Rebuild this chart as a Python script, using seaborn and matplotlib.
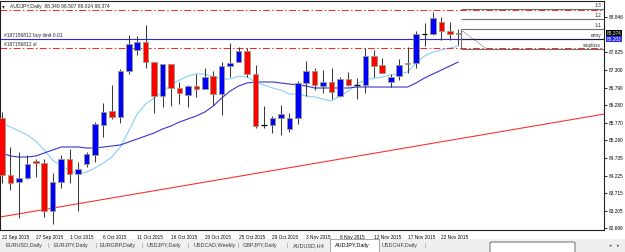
import numpy as np
import pandas as pd
import matplotlib
matplotlib.use("Agg")
import matplotlib.pyplot as plt
import matplotlib.transforms as mtransforms
from matplotlib.patches import Rectangle, FancyBboxPatch
import seaborn as sns

sns.set_style("white")
plt.rcParams['font.family'] = ['Liberation Sans', 'DejaVu Sans']

# AUDJPY daily candles
opens = [85.904, 84.245, 84.041, 84.157, 84.652, 84.594, 83.197, 84.041, 84.710, 84.274,
         84.565, 84.827, 85.700, 86.108, 85.933, 87.272, 87.883, 88.116, 87.534, 86.544,
         87.476, 86.777, 86.573, 86.835, 86.748, 87.126, 86.602, 87.417, 87.534, 87.854,
         87.185, 85.700, 85.700, 85.904, 85.584, 85.904, 86.923, 87.272, 86.835, 86.952,
         86.544, 87.039, 86.864, 86.864, 87.709, 87.447, 86.952, 87.126, 87.476, 87.505,
         88.349, 88.349, 88.698, 88.436, 88.349]
highs = [86.078, 85.060, 84.914, 84.827, 84.710, 84.710, 84.303, 84.827, 85.001, 84.623,
         84.914, 85.787, 86.340, 86.864, 87.330, 88.320, 88.291, 88.611, 87.534, 87.476,
         87.476, 86.952, 86.864, 87.185, 87.359, 87.272, 87.534, 88.087, 87.971, 87.941,
         87.447, 86.253, 85.962, 86.282, 86.049, 86.981, 87.563, 87.359, 87.301, 87.359,
         87.097, 87.243, 87.068, 87.941, 87.883, 87.650, 87.185, 87.621, 87.971, 88.436,
         88.669, 88.989, 88.844, 88.698, 88.507]
lows = [84.012, 83.808, 82.993, 84.128, 84.186, 83.022, 82.818, 83.866, 84.012, 83.197,
        84.477, 84.623, 85.351, 85.875, 85.758, 87.185, 87.738, 87.359, 86.049, 86.224,
        86.253, 86.311, 86.224, 86.515, 86.748, 86.282, 85.991, 87.097, 87.534, 87.097,
        85.613, 85.613, 85.467, 85.409, 85.496, 85.729, 86.544, 86.719, 86.631, 86.457,
        86.515, 86.835, 86.457, 86.631, 87.097, 87.214, 86.806, 87.010, 87.214, 87.359,
        88.000, 88.320, 88.174, 88.174, 88.024]
closes = [84.245, 84.012, 84.157, 84.565, 84.594, 83.197, 84.041, 84.710, 84.274, 84.419,
          84.856, 85.729, 86.078, 85.933, 87.272, 88.058, 88.116, 87.534, 86.544, 87.476,
          86.777, 86.631, 86.835, 86.748, 87.097, 86.602, 87.417, 87.505, 87.854, 87.185,
          85.671, 85.700, 85.904, 86.020, 85.904, 86.923, 87.272, 86.864, 86.952, 86.661,
          87.039, 86.864, 86.864, 87.709, 87.417, 87.214, 87.097, 87.447, 87.505, 88.349,
          88.349, 88.815, 88.436, 88.349, 88.374]

# moving averages (fast light blue, slow dark blue)
ma_fast = [85.758, 85.642, 85.525, 85.409, 85.234, 84.972, 84.681, 84.506, 84.390, 84.274,
           84.332, 84.448, 84.594, 84.768, 85.060, 85.525, 86.020, 86.311, 86.486, 86.661,
           86.864, 87.010, 87.126, 87.185, 87.185, 87.097, 87.039, 87.039, 87.126, 87.097,
           86.952, 86.864, 86.777, 86.719, 86.602, 86.602, 86.544, 86.515, 86.457, 86.399,
           86.544, 86.690, 86.893, 87.010, 87.068, 87.097, 87.155, 87.185, 87.243, 87.505,
           87.709, 87.825, 87.883, 87.941, 88.000]
ma_slow = [84.885, 84.798, 84.768, 84.768, 84.798, 84.885, 84.972, 85.060, 85.060, 85.060,
           85.030, 85.030, 85.060, 85.089, 85.118, 85.205, 85.292, 85.380, 85.467, 85.584,
           85.671, 85.787, 85.875, 85.962, 86.078, 86.253, 86.486, 86.690, 86.835, 86.923,
           86.952, 86.952, 86.952, 86.923, 86.893, 86.864, 86.835, 86.777, 86.777, 86.777,
           86.777, 86.777, 86.806, 86.806, 86.806, 86.806, 86.806, 86.806, 86.806, 86.923,
           87.068, 87.185, 87.301, 87.417, 87.534]

date_labels = ['22 Sep 2015', '27 Sep 2015', '1 Oct 2015', '6 Oct 2015', '11 Oct 2015',
               '16 Oct 2015', '20 Oct 2015', '25 Oct 2015', '29 Oct 2015', '3 Nov 2015',
               '8 Nov 2015', '12 Nov 2015', '17 Nov 2015', '22 Nov 2015']
date_ticks = list(range(0, 53, 4))
price_ticks = [88.846, 87.825, 87.300, 86.790, 86.280, 85.770, 85.260, 84.735,
               84.225, 83.715, 83.205, 82.696]

title_text = 'AUDJPY,Daily  88.349 88.507 88.024 88.374'
tp_level = 89.048
buy_limit = 88.203
sl_level = 87.941
order_labels = ['#187156812 buy limit 0.01', '#187156812 sl']
rr_levels = [89.077, 88.786, 88.495, 88.203, 87.912]
rr_names = ['1:3', '1:2', '1:1', 'entry', 'stoploss']
trend_bars = [5, 54]
trend_prices = [83.24, 85.295]
proj_bars = [54.5, 57.2]
proj_prices = [88.436, 87.941]
last_price = 88.374

tabs = ['EURUSD,Daily', 'EURJPY,Daily', 'EURGBP,Daily', 'USDJPY,Daily', 'USDCAD,Weekly',
        'GBPJPY,Daily', 'AUDUSD,H4', 'AUDJPY,Daily', 'USDCHF,Daily']
active_tab = 'AUDJPY,Daily'

W, H = 625, 252
fig = plt.figure(figsize=(W / 100, H / 100), dpi=100)
fig.patch.set_facecolor('white')
ax = fig.add_axes([0, 22 / H, 604 / W, 229 / H])
xmin, xmax = -0.237, 71.24
ax.set_xlim(xmin, xmax)
ax.set_ylim(82.643, 89.310)

df = pd.DataFrame({'o': opens, 'h': highs, 'l': lows, 'c': closes})
df['bar'] = np.arange(len(df))
bull = df[df.c > df.o]
bear = df[df.c < df.o]
doji = df[df.c == df.o]

# wicks
ax.vlines(df.bar, df.l, df.h, color='#3a3a3a', lw=0.75, zorder=2)
# bodies
bw = 0.66
ax.bar(bull.bar, bull.c - bull.o, bottom=bull.o, width=bw, color='#0000ff',
       edgecolor='#9c9c7c', lw=0.6, zorder=3)
ax.bar(bear.bar, bear.o - bear.c, bottom=bear.c, width=bw, color='#ff0000',
       edgecolor='#9c9c7c', lw=0.6, zorder=3)
ax.hlines(doji.o, doji.bar - bw / 2, doji.bar + bw / 2, color='black', lw=0.9, zorder=3)

# moving averages
sns.lineplot(x=df.bar, y=ma_fast, ax=ax, color='#87cefa', lw=0.8, zorder=1)
sns.lineplot(x=df.bar, y=ma_slow, ax=ax, color='#3535d0', lw=0.8, zorder=1)

# trend line extended across the chart
slope = (trend_prices[1] - trend_prices[0]) / (trend_bars[1] - trend_bars[0])
tx = np.array([xmin, xmax])
ty = trend_prices[0] + slope * (tx - trend_bars[0])
sns.lineplot(x=tx, y=ty, ax=ax, color='#ff3030', lw=0.8, zorder=1)

# order lines
dashdot = (0, (7, 2.5, 1.5, 2.5))
ax.axhline(tp_level, color='#ff2020', lw=0.7, ls=dashdot, zorder=1)
ax.axhline(sl_level, color='#ff2020', lw=0.7, ls=dashdot, zorder=1)
ax.axhline(buy_limit, color='#2a2ae0', lw=0.8, zorder=1)
ax.text(0.25, buy_limit + 0.03, order_labels[0], fontsize=3.6, va='bottom', ha='left')
ax.text(0.25, sl_level + 0.03, order_labels[1], fontsize=3.6, va='bottom', ha='left')

# risk/reward tool
rr_x0 = 54.3
for lvl, name in zip(rr_levels, rr_names):
    col = '#1a1a3a' if name == 'entry' else '#6e6e6e'
    ax.hlines(lvl, rr_x0, xmax, color=col, lw=0.8, zorder=1)
    ax.text(70.9, lvl + 0.025, name, fontsize=3.4, ha='right', va='bottom')
ax.vlines(rr_x0, rr_levels[-1], rr_levels[2], color='#6e6e6e', lw=0.8, zorder=1)
ax.plot(proj_bars, proj_prices, color='#555555', lw=0.6, ls=(0, (1.5, 1.5)))

# title
ax.text(0.004, 0.985, '\u25BE', transform=ax.transAxes, fontsize=4, va='top',
        family=['DejaVu Sans'])
ax.text(0.016, 0.988, title_text, transform=ax.transAxes, fontsize=3.6, va='top')

# axes styling
for s in ax.spines.values():
    s.set_color('#202020')
    s.set_linewidth(0.8)
ax.yaxis.tick_right()
ax.set_yticks(price_ticks)
ax.set_yticklabels(['%.3f' % p for p in price_ticks])
ax.set_xticks(date_ticks)
ax.set_xticklabels(date_labels, ha='left')
ax.tick_params(axis='both', length=2, width=0.6, pad=1.2, labelsize=3.4,
               direction='out', colors='black')
ax.tick_params(axis='x', pad=1.5)
ax.set_xlabel('')
ax.set_ylabel('')

# highlighted prices on the right scale
ytr = ax.get_yaxis_transform()
ax.text(1.004, last_price, '%.3f' % last_price, transform=ytr, fontsize=3.4, color='white',
        va='center', ha='left', clip_on=False,
        bbox=dict(facecolor='black', edgecolor='none', pad=0.6))
ax.text(1.004, buy_limit, '%.3f' % buy_limit, transform=ytr, fontsize=3.4, color='white',
        va='center', ha='left', clip_on=False,
        bbox=dict(facecolor='#2a2ae0', edgecolor='none', pad=0.6))

# tab bar at the bottom
ft = fig.transFigure
fig.add_artist(Rectangle((0, 0), 1, 13.5 / H, transform=ft, facecolor='#efefef',
                         edgecolor='none', zorder=0))
tab_x = [5, 53, 100, 147, 194, 243, 293, 335, 382]
sep_x = [48, 96, 142, 188, 238, 287, 425]
ty_tab = 6.2 / H
for name, x in zip(tabs, tab_x):
    if name == active_tab:
        fig.add_artist(Rectangle(((x - 5) / W, 0), 49 / W, 13.5 / H, transform=ft,
                                 facecolor='white', edgecolor='#9a9a9a', lw=0.6))
    fig.text(x / W, ty_tab, name, fontsize=4, va='center', ha='left',
             color='black' if name == active_tab else '#3c3c3c')
for x in sep_x:
    fig.text(x / W, ty_tab, '|', fontsize=4, va='center', ha='center', color='#8a8a8a')
fig.add_artist(FancyBboxPatch((490 / W, -2 / H), 85 / W, 12 / H, transform=ft,
                              boxstyle='round,pad=0,rounding_size=0.004',
                              facecolor='white', edgecolor='#7a7a7a', lw=0.8))
fig.text(610 / W, ty_tab, '\u25C2', fontsize=3.5, va='center', ha='center',
         color='#555555', family=['DejaVu Sans'])
fig.text(618 / W, ty_tab, '\u25B8', fontsize=3.5, va='center', ha='center',
         color='#555555', family=['DejaVu Sans'])

fig.savefig('out.png', dpi=100)
